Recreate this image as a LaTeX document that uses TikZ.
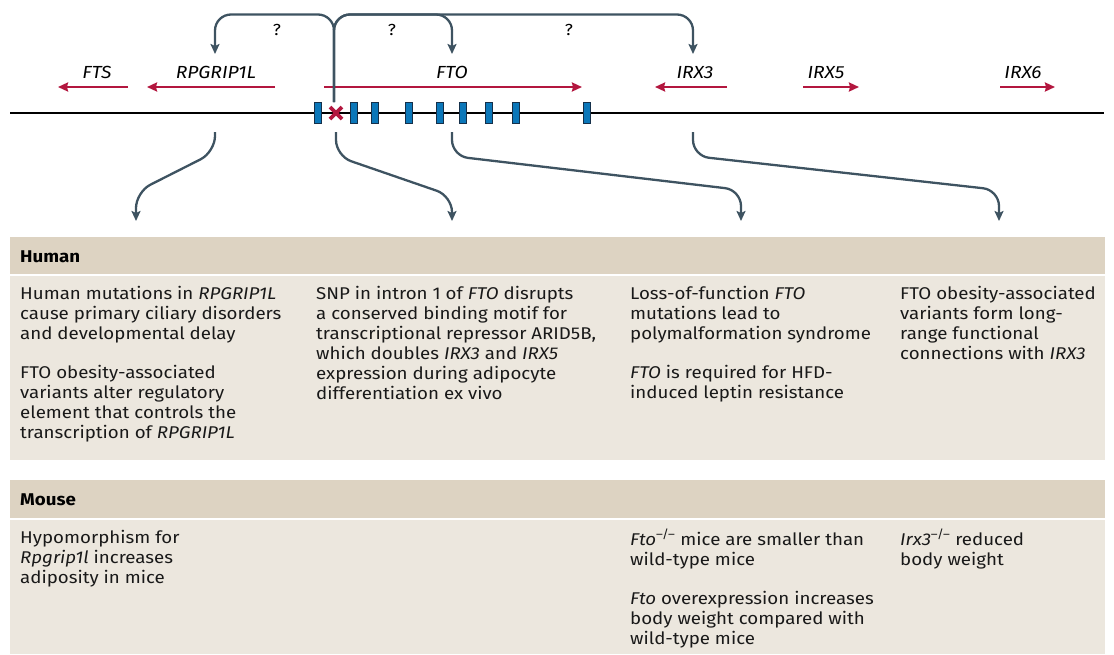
\documentclass[tikz,border=0pt]{standalone}
\usepackage{fontspec}
\setmainfont{Fira Sans}[FakeStretch=1.1]
\usetikzlibrary{arrows.meta}
\definecolor{slate}{HTML}{3E5361}
\definecolor{genered}{HTML}{B3173F}
\definecolor{exonblue}{HTML}{0B77B9}
\definecolor{exonedge}{HTML}{15304A}
\definecolor{bandhead}{HTML}{DDD3C2}
\definecolor{bandbody}{HTML}{ECE7DE}
\newcommand{\fstrut}{\rule{0pt}{14pt}}
\begin{document}
\begin{tikzpicture}[x=1pt,y=-1pt,
  conn/.style={draw=slate,line width=2.3pt,rounded corners=16pt,-{Stealth[length=10pt,width=9pt,inset=2pt]}},
  genearrow/.style={draw=genered,line width=2.3pt,-{Stealth[length=10pt,width=9pt,inset=1pt]}},
  genelabel/.style={font=\fontsize{17.5}{18}\selectfont\itshape,inner sep=0pt,anchor=base},
  qmark/.style={font=\fontsize{16}{18}\selectfont,inner sep=0pt},
  exon/.style={draw=exonedge,fill=exonblue,line width=0.9pt,minimum width=7pt,minimum height=21pt,inner sep=0pt},
  bodytext/.style={font=\fontsize{17}{20}\selectfont,align=left,inner sep=0pt,anchor=north west,text=black!90},
  headtext/.style={font=\fontsize{17}{18}\selectfont\bfseries,inner sep=0pt,anchor=base west,text=black},
]
\useasboundingbox (0,0) rectangle (1114,654);
% bands
\fill[bandhead] (10,237) rectangle (1105,274);
\fill[bandbody] (10,276) rectangle (1105,460);
\fill[bandhead] (10,480) rectangle (1105,518);
\fill[bandbody] (10,520) rectangle (1105,654);
\node[headtext] (human) at (20,262) {Human};
\node[headtext] (mouse) at (20,505) {Mouse};

% chromosome
\draw[line width=2.6pt] (10,113) -- (1104,113);
\foreach \n/\x in {1/317.5,2/354,3/375,4/408.5,5/440,6/463,7/489,8/515.5,9/587}
  \node[exon] (ex\n) at (\x,113) {};
\coordinate (snp) at (336,113);
\draw[genered,line width=3.6pt] (snp) +(-6,-6) -- +(6,6);
\draw[genered,line width=3.6pt] (snp) +(-6,6) -- +(6,-6);

% gene arrows
\draw[genearrow] (128,87) -- (58,87);
\draw[genearrow] (275,87) -- (147,87);
\draw[genearrow] (324,87) -- (582,87);
\draw[genearrow] (727,87) -- (655,87);
\draw[genearrow] (803,87) -- (859,87);
\draw[genearrow] (1000,87) -- (1055,87);
\node[genelabel] (fts) at (97,78) {FTS};
\node[genelabel] (rpg) at (216,78) {RPGRIP1L};
\node[genelabel] (fto) at (452,78) {FTO};
\node[genelabel] (irx3) at (695,78) {IRX3};
\node[genelabel] (irx5) at (826,78) {IRX5};
\node[genelabel] (irx6) at (1023,78) {IRX6};

% top connectors
\coordinate (snpTop) at (334,102);
\coordinate (fork) at (334,14.5);
\coordinate (rpgTip) at (215,54);
\coordinate (ftoTip) at (452,54);
\coordinate (irxTip) at (693,54);
\draw[conn] (snpTop) -- (fork) -- (215,14.5) -- (rpgTip);
\draw[conn] (snpTop) -- (fork) -- (452,14.5) -- (ftoTip);
\draw[conn] (snpTop) -- (fork) -- (693,14.5) -- (irxTip);
\node[qmark] (q1) at (277,30) {?};
\node[qmark] (q2) at (392,30) {?};
\node[qmark] (q3) at (569,30) {?};

% bottom connectors
\coordinate (b1s) at (215,132);
\coordinate (b2s) at (336,132);
\coordinate (b3s) at (452,132);
\coordinate (b4s) at (693,132);
\coordinate (b1e) at (136,221);
\coordinate (b2e) at (452,221);
\coordinate (b3e) at (741,221);
\coordinate (b4e) at (999,221);
\draw[conn] (b1s) -- (215,152) -- (136,192) -- (b1e);
\draw[conn] (b2s) -- (336,156) -- (452,196) -- (b2e);
\draw[conn] (b3s) -- (452,156) -- (741,190) -- (b3e);
\draw[conn] (b4s) -- (693,156) -- (999,190) -- (b4e);

% human texts
\node[bodytext] (h1) at (20,285) {\fstrut Human mutations in \textit{RPGRIP1L}\\
cause primary ciliary disorders\\
and developmental delay\\[19pt]
FTO obesity-associated\\
variants alter regulatory\\
element that controls the\\
transcription of \textit{RPGRIP1L}};
\node[bodytext] (h2) at (316,285) {\fstrut SNP in intron 1 of \textit{FTO} disrupts\\
a conserved binding motif for\\
transcriptional repressor ARID5B,\\
which doubles \textit{IRX3} and \textit{IRX5}\\
expression during adipocyte\\
differentiation ex vivo};
\node[bodytext] (h3) at (630,285) {\fstrut Loss-of-function \textit{FTO}\\
mutations lead to\\
polymalformation syndrome\\[19pt]
\textit{FTO} is required for HFD-\\
induced leptin resistance};
\node[bodytext] (h4) at (900,285) {\fstrut FTO obesity-associated\\
variants form long-\\
range functional\\
connections with \textit{IRX3}};

% mouse texts
\node[bodytext] (m1) at (20,529) {\fstrut Hypomorphism for\\
\textit{Rpgrip1l} increases\\
adiposity in mice};
\node[bodytext] (m3) at (630,529) {\fstrut\textit{Fto}\textsuperscript{–/–} mice are smaller than\\
wild-type mice\\[19pt]
\textit{Fto} overexpression increases\\
body weight compared with\\
wild-type mice};
\node[bodytext] (m4) at (900,529) {\fstrut\textit{Irx3}\textsuperscript{–/–} reduced\\
body weight};
\end{tikzpicture}
\end{document}
